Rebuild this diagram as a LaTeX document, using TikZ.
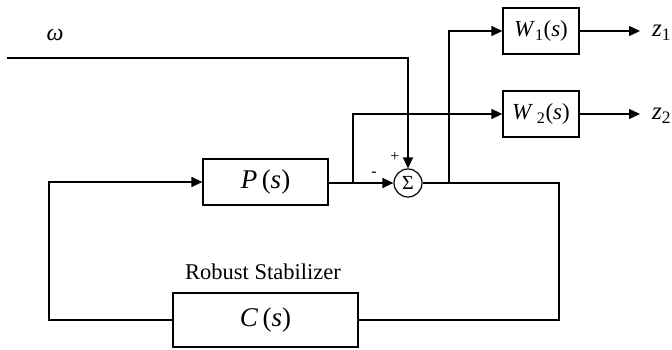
\documentclass[tikz,border=0pt]{standalone}
\usepackage{fontspec}
\setmainfont{Liberation Serif}
\usetikzlibrary{arrows.meta}
\tikzset{
  blk/.style={draw, line width=1.3pt, inner sep=0pt},
  wire/.style={line width=1.3pt},
  arr/.style={wire, -{Triangle[length=11pt,width=10pt]}},
  jdot/.style={circle, fill, inner sep=0pt, minimum size=3.5pt},
  lbl/.style={inner sep=0pt},
}
\newcommand{\bigtxt}{\fontsize{27}{30}\selectfont}
\newcommand{\wtxt}{\fontsize{23}{26}\selectfont}
\begin{document}
\begin{tikzpicture}[x=1pt,y=-1pt]
\useasboundingbox (0,0) rectangle (672,350);
% blocks
\node[blk, minimum width=125pt, minimum height=46pt] (P) at (265.5,182) {\bigtxt\textit{P}\,(\textit{s})};
\node[blk, minimum width=185pt, minimum height=54pt] (C) at (265.5,320) {\bigtxt\textit{C}\,(\textit{s})};
\node[blk, minimum width=76pt, minimum height=46pt] (W1) at (541,31) {\wtxt\textit{W}\textsubscript{1}(\textit{s})};
\node[blk, minimum width=76pt, minimum height=46pt] (W2) at (541,114) {\wtxt\textit{W}\,\textsubscript{2}(\textit{s})};
\node[draw, circle, line width=1.2pt, minimum size=28pt, inner sep=0pt] (S) at (408,183) {\fontsize{20}{22}\selectfont Σ};
% labels
\node[lbl] (om) at (55,35) {\fontsize{24}{26}\selectfont\textit{ω}};
\node[lbl, anchor=west] (z1) at (652,33) {\fontsize{25}{27}\selectfont\textit{z}\textsubscript{1}};
\node[lbl, anchor=west] (z2) at (652,116) {\fontsize{25}{27}\selectfont\textit{z}\textsubscript{2}};
\node[lbl] (rs) at (263,272) {\fontsize{22.5}{25}\selectfont Robust Stabilizer};
\node[lbl] (plus) at (395,157) {\fontsize{16}{18}\selectfont +};
\node[lbl] (minus) at (374,174) {\fontsize{16}{18}\selectfont -};
% coordinates
\coordinate (wstart) at (7,58);
\coordinate (wcorner) at (408,58);
\coordinate (j1) at (353,183);
\coordinate (j1t) at (353,114);
\coordinate (dA) at (408,114);
\coordinate (j2) at (449,183);
\coordinate (j2t) at (449,31);
\coordinate (dB) at (449,114);
\coordinate (rc) at (559,183);
\coordinate (rb) at (559,320);
\coordinate (lb) at (49,320);
\coordinate (lt) at (49,182);
\coordinate (o1) at (640,31);
\coordinate (o2) at (640,114);
% wires
\draw[arr] (wstart) -- (wcorner) -- (S.north);
\draw[arr] (P.east |- S.west) -- (S.west);
\draw[arr] (j1) -- (j1t) -- (W2.west);
\draw[wire] (S.east) -- (rc) -- (rb) -- (C.east);
\draw[arr] (j2) -- (j2t) -- (W1.west);
\draw[arr] (C.west) -- (lb) -- (lt) -- (P.west |- lt);
\draw[arr] (W1.east) -- (o1);
\draw[arr] (W2.east) -- (o2);
\node[jdot] at (dA) {};
\node[jdot] at (dB) {};
\end{tikzpicture}
\end{document}
